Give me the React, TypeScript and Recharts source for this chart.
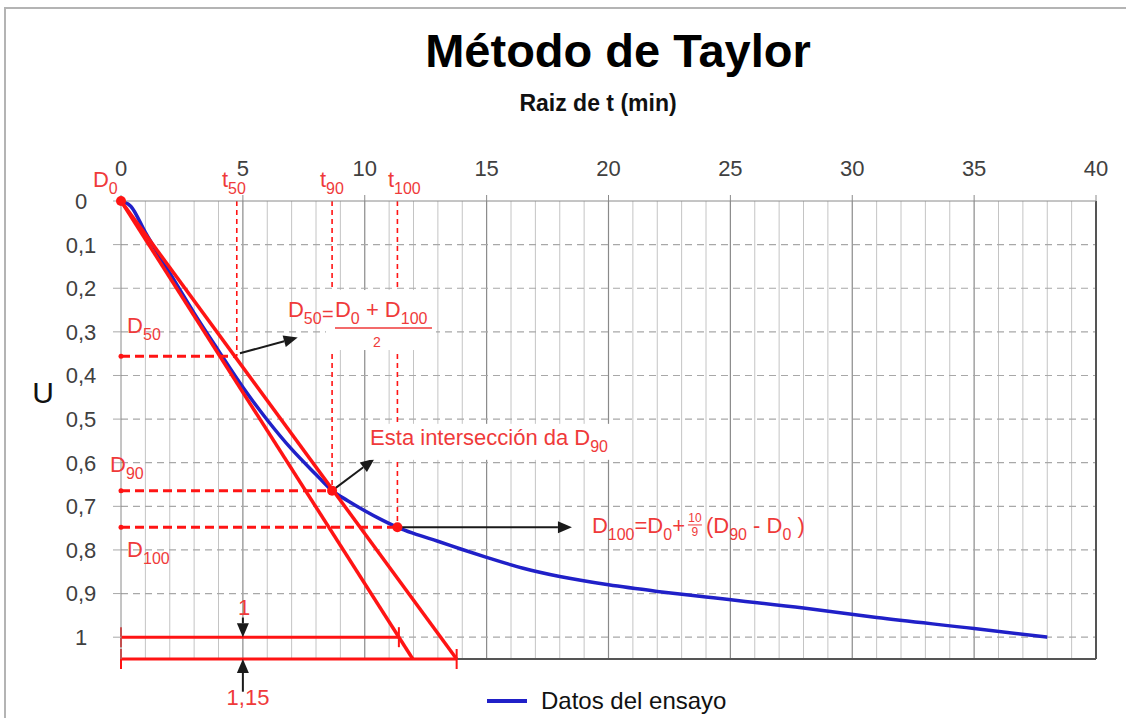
import React from "react";
import {
  CartesianGrid,
  Line,
  LineChart,
  ReferenceDot,
  ReferenceLine,
  XAxis,
  YAxis,
} from "recharts";

// test data: sqrt(t) vs U
const sqrtT = [0, 0.4, 1, 2, 3, 4, 5, 6, 7, 8, 8.66, 9.3, 10, 10.7, 11.34, 12, 13, 14, 15, 16.5, 18, 20, 22, 24, 28, 31, 35, 38];
const uValues = [0, 0.012, 0.072, 0.165, 0.257, 0.343, 0.427, 0.502, 0.569, 0.627, 0.664, 0.687, 0.71, 0.731, 0.748, 0.762, 0.78, 0.799, 0.817, 0.842, 0.861, 0.88, 0.895, 0.908, 0.933, 0.955, 0.98, 1.0];

const xTicks = [0, 5, 10, 15, 20, 25, 30, 35, 40];
const yTicks = [0, 0.1, 0.2, 0.3, 0.4, 0.5, 0.6, 0.7, 0.8, 0.9, 1];
const majorX = [5, 10, 15, 20, 25, 30, 35];
const minorX = Array.from({ length: 40 }, (_, i) => i).filter((i) => i % 5 !== 0);
const dashY = [0.1, 0.2, 0.3, 0.4, 0.5, 0.6, 0.7, 0.8, 0.9, 1];

// Taylor construction
const U_MAX = 1.05;
const D50 = 0.356;
const D90 = 0.664;
const D100 = 0.748;
const t50 = 4.75;
const t90 = 8.66;
const t100 = 11.34;
const firstLineEnd = 11.97; // initial tangent at U = 1.05
const secondLineEnd = 13.77; // 1,15 x abscissa
const firstAtOne = 11.4;

const curve = sqrtT.map((x, i) => ({ x, u: uValues[i] }));
const tangent = [{ x: 0, u: 0 }, { x: firstLineEnd, u: U_MAX }];
const tangent115 = [{ x: 0, u: 0 }, { x: secondLineEnd, u: U_MAX }];

const RED = "#ff1414";
const RED_TXT = "#ef3a3a";
const BLUE = "#2020c8";
const FONT = "'Liberation Sans', Arial, sans-serif";

type Part = { t: string; sub?: boolean };
const nm = (t: string): Part => ({ t });
const sb = (t: string): Part => ({ t, sub: true });

function Runs({ parts, size = 22, subSize = 16, drop = 7 }: { parts: Part[]; size?: number; subSize?: number; drop?: number }) {
  let prevSub = false;
  return (
    <>
      {parts.map((p, i) => {
        let dy = 0;
        if (p.sub && !prevSub) dy = drop;
        if (!p.sub && prevSub) dy = -drop;
        prevSub = !!p.sub;
        return (
          <tspan key={i} dy={dy} fontSize={p.sub ? subSize : size}>
            {p.t}
          </tspan>
        );
      })}
    </>
  );
}

const notes: { x: number; u: number; parts: Part[]; anchor?: string; bg?: number[] }[] = [
  { x: -1.15, u: -0.032, parts: [nm("D"), sb("0")] },
  { x: 4.14, u: -0.032, parts: [nm("t"), sb("50")] },
  { x: 8.16, u: -0.032, parts: [nm("t"), sb("90")] },
  { x: 10.95, u: -0.032, parts: [nm("t"), sb("100")] },
  { x: 0.25, u: 0.303, parts: [nm("D"), sb("50")] },
  { x: -0.45, u: 0.621, parts: [nm("D"), sb("90")] },
  { x: 0.25, u: 0.816, parts: [nm("D"), sb("100")] },
  { x: 10.22, u: 0.559, parts: [nm("Esta intersección da D"), sb("90")], bg: [-4, -21, 262, 36] },
  { x: 5.05, u: 0.949, parts: [nm("1")], anchor: "middle" },
  { x: 5.21, u: 1.155, parts: [nm("1,15")], anchor: "middle" },
];

const arrows = [
  [{ x: 4.88, y: 0.349 }, { x: 7.25, y: 0.313 }],
  [{ x: t90, y: D90 }, { x: 10.4, y: 0.591 }],
  [{ x: t100, y: D100 }, { x: 18.5, y: D100 }],
  [{ x: 5, y: 0.955 }, { x: 5, y: 1.0 }],
  [{ x: 5, y: 1.125 }, { x: 5, y: U_MAX }],
];

function Arrow(p: any) {
  const { x1, y1, x2, y2 } = p;
  const a = Math.atan2(y2 - y1, x2 - x1);
  const L = 14;
  const W = 6;
  const bx = x2 - L * Math.cos(a);
  const by = y2 - L * Math.sin(a);
  const pts = `${x2},${y2} ${bx + W * Math.sin(a)},${by - W * Math.cos(a)} ${bx - W * Math.sin(a)},${by + W * Math.cos(a)}`;
  return (
    <g>
      <line x1={x1} y1={y1} x2={bx} y2={by} stroke="#1a1a1a" strokeWidth={2} />
      <polygon points={pts} fill="#1a1a1a" />
    </g>
  );
}

function Measure(p: any) {
  const { x1, y1, x2, y2 } = p;
  return (
    <g>
      <line x1={x1} y1={y1} x2={x2} y2={y2} stroke={RED} strokeWidth={3} />
      <line x1={x1} y1={y1 - 10} x2={x1} y2={y1 + 10} stroke={RED} strokeWidth={2} />
      <line x1={x2} y1={y2 - 10} x2={x2} y2={y2 + 10} stroke={RED} strokeWidth={2} />
    </g>
  );
}

function XTick(p: any) {
  return (
    <text x={p.x} y={p.y - 17} textAnchor="middle" fill="#404040" fontSize={22} fontFamily={FONT}>
      {p.payload.value}
    </text>
  );
}

function YTick(p: any) {
  return (
    <text x={81} y={p.y} dy="0.36em" textAnchor="middle" fill="#404040" fontSize={22} fontFamily={FONT}>
      {String(p.payload.value).replace(".", ",")}
    </text>
  );
}

function D50Formula(p: any) {
  const { cx, cy } = p;
  return (
    <g fontFamily={FONT} fill={RED_TXT}>
      <rect x={cx + 38} y={cy - 27} width={110} height={60} fill="#fff" />
      <text x={cx} y={cy}>
        <Runs parts={[nm("D"), sb("50")]} />
      </text>
      <text x={cx + 34} y={cy + 4} fontSize={20}>
        =
      </text>
      <text x={cx + 47} y={cy}>
        <Runs parts={[nm("D"), sb("0"), nm(" + D"), sb("100")]} />
      </text>
      <line x1={cx + 47} x2={cx + 144} y1={cy + 11} y2={cy + 11} stroke={RED_TXT} strokeWidth={1.5} />
      <text x={cx + 89} y={cy + 30} fontSize={14} textAnchor="middle">
        2
      </text>
    </g>
  );
}

function D100Formula(p: any) {
  const { cx, cy } = p;
  return (
    <g fontFamily={FONT} fill={RED_TXT}>
      <text x={cx} y={cy}>
        <Runs parts={[nm("D"), sb("100"), nm("=D"), sb("0"), nm("+")]} />
      </text>
      <text x={cx + 103} y={cy - 11} fontSize={12} textAnchor="middle">
        10
      </text>
      <line x1={cx + 96} x2={cx + 110} y1={cy - 8} y2={cy - 8} stroke={RED_TXT} strokeWidth={1} />
      <text x={cx + 103} y={cy + 3} fontSize={12} textAnchor="middle">
        9
      </text>
      <text x={cx + 114} y={cy}>
        <Runs parts={[nm(" (D"), sb("90"), nm(" - D"), sb("0"), nm(" )")]} />
      </text>
    </g>
  );
}

export default function App() {
  return (
    <div style={{ position: "fixed", left: 0, top: 0, width: 1126, height: 718, background: "#fff", fontFamily: FONT }}>
      <div
        style={{
          position: "absolute",
          left: 4,
          top: 7,
          width: 1200,
          height: 800,
          borderLeft: "2px solid #b4b4b4",
          borderTop: "2px solid #b4b4b4",
        }}
      />
      <div
        style={{
          position: "absolute",
          left: 618,
          top: 27,
          transform: "translateX(-50%)",
          fontSize: 47,
          lineHeight: "47px",
          fontWeight: 700,
          whiteSpace: "nowrap",
          color: "#000",
        }}
      >
        Método de Taylor
      </div>
      <div
        style={{
          position: "absolute",
          left: 598,
          top: 92,
          transform: "translateX(-50%)",
          fontSize: 23,
          lineHeight: "23px",
          fontWeight: 700,
          whiteSpace: "nowrap",
          color: "#111",
        }}
      >
        Raiz de t (min)
      </div>
      <div
        style={{
          position: "absolute",
          left: 43,
          top: 378,
          transform: "translateX(-50%)",
          fontSize: 30,
          lineHeight: "30px",
          color: "#111",
        }}
      >
        U
      </div>

      <div style={{ position: "absolute", left: 0, top: 0 }}>
        <LineChart width={1126} height={718} margin={{ top: 171, right: 30, bottom: 59, left: 61 }}>
          <CartesianGrid horizontal={false} verticalValues={minorX} stroke="#c4c4c4" strokeWidth={1} />
          <CartesianGrid horizontal={false} verticalValues={majorX} stroke="#8a8a8a" strokeWidth={1.2} />
          <CartesianGrid vertical={false} horizontalValues={dashY} stroke="#a8a8a8" strokeWidth={1.2} strokeDasharray="7 5" />
          <XAxis
            type="number"
            dataKey="x"
            orientation="top"
            domain={[0, 40]}
            ticks={xTicks}
            interval={0}
            height={30}
            tickSize={6}
            tickLine={{ stroke: "#8a8a8a" }}
            axisLine={{ stroke: "#8a8a8a" }}
            tick={XTick}
            allowDataOverflow
          />
          <YAxis
            type="number"
            domain={[0, U_MAX]}
            reversed
            ticks={yTicks}
            interval={0}
            width={60}
            tickSize={8}
            tickLine={{ stroke: "#a8a8a8" }}
            axisLine={{ stroke: "#8a8a8a" }}
            tick={YTick}
            allowDataOverflow
          />
          <ReferenceLine x={40} stroke="#555" strokeWidth={2} ifOverflow="visible" />
          <ReferenceLine y={U_MAX} stroke="#555" strokeWidth={2} ifOverflow="visible" />

          <Line data={curve} dataKey="u" type="monotone" stroke={BLUE} strokeWidth={3.5} dot={false} isAnimationActive={false} />
          <Line data={tangent} dataKey="u" type="linear" stroke={RED} strokeWidth={3.5} dot={false} isAnimationActive={false} />
          <Line data={tangent115} dataKey="u" type="linear" stroke={RED} strokeWidth={3.5} dot={false} isAnimationActive={false} />

          {/* guide lines */}
          <ReferenceLine segment={[{ x: 0, y: D50 }, { x: t50, y: D50 }]} stroke={RED} strokeWidth={3} strokeDasharray="9 5" ifOverflow="visible" />
          <ReferenceLine segment={[{ x: 0, y: D90 }, { x: t90, y: D90 }]} stroke={RED} strokeWidth={3} strokeDasharray="9 5" ifOverflow="visible" />
          <ReferenceLine segment={[{ x: 0, y: D100 }, { x: t100, y: D100 }]} stroke={RED} strokeWidth={3} strokeDasharray="9 5" ifOverflow="visible" />
          <ReferenceLine segment={[{ x: t50, y: 0 }, { x: t50, y: D50 }]} stroke={RED} strokeWidth={1.6} strokeDasharray="5 4" ifOverflow="visible" />
          <ReferenceLine segment={[{ x: t90, y: 0 }, { x: t90, y: D90 }]} stroke={RED} strokeWidth={1.6} strokeDasharray="5 4" ifOverflow="visible" />
          <ReferenceLine segment={[{ x: t100, y: 0 }, { x: t100, y: D100 }]} stroke={RED} strokeWidth={1.6} strokeDasharray="5 4" ifOverflow="visible" />

          <ReferenceLine segment={[{ x: 0, y: 1 }, { x: firstAtOne, y: 1 }]} shape={Measure} ifOverflow="visible" />
          <ReferenceLine segment={[{ x: 0, y: U_MAX }, { x: secondLineEnd, y: U_MAX }]} shape={Measure} ifOverflow="visible" />

          <ReferenceDot x={0} y={0} r={5} fill={RED} stroke="none" ifOverflow="visible" />
          <ReferenceDot x={t90} y={D90} r={5} fill={RED} stroke="none" ifOverflow="visible" />
          <ReferenceDot x={t100} y={D100} r={5} fill={RED} stroke="none" ifOverflow="visible" />
          <ReferenceDot x={0} y={D50} r={2.5} fill={RED} stroke="none" ifOverflow="visible" />
          <ReferenceDot x={0} y={D90} r={2.5} fill={RED} stroke="none" ifOverflow="visible" />
          <ReferenceDot x={0} y={D100} r={2.5} fill={RED} stroke="none" ifOverflow="visible" />

          {notes.map((n, i) => (
            <ReferenceDot
              key={`n${i}`}
              x={n.x}
              y={n.u}
              ifOverflow="visible"
              shape={(p: any) => (
                <g>
                  {n.bg && <rect x={p.cx + n.bg[0]} y={p.cy + n.bg[1]} width={n.bg[2]} height={n.bg[3]} fill="#fff" />}
                  <text x={p.cx} y={p.cy} fill={RED_TXT} fontFamily={FONT} textAnchor={n.anchor ?? "start"}>
                    <Runs parts={n.parts} />
                  </text>
                </g>
              )}
            />
          ))}
          <ReferenceDot x={6.85} y={0.266} ifOverflow="visible" shape={D50Formula} />
          <ReferenceDot x={19.32} y={0.761} ifOverflow="visible" shape={D100Formula} />

          {arrows.map((seg, i) => (
            <ReferenceLine key={`a${i}`} segment={seg} shape={Arrow} ifOverflow="visible" />
          ))}
        </LineChart>
      </div>

      <div style={{ position: "absolute", left: 487, top: 699, width: 40, height: 4, background: BLUE }} />
      <div
        style={{
          position: "absolute",
          left: 541,
          top: 689,
          fontSize: 24,
          lineHeight: "24px",
          color: "#111",
          whiteSpace: "nowrap",
        }}
      >
        Datos del ensayo
      </div>
    </div>
  );
}
